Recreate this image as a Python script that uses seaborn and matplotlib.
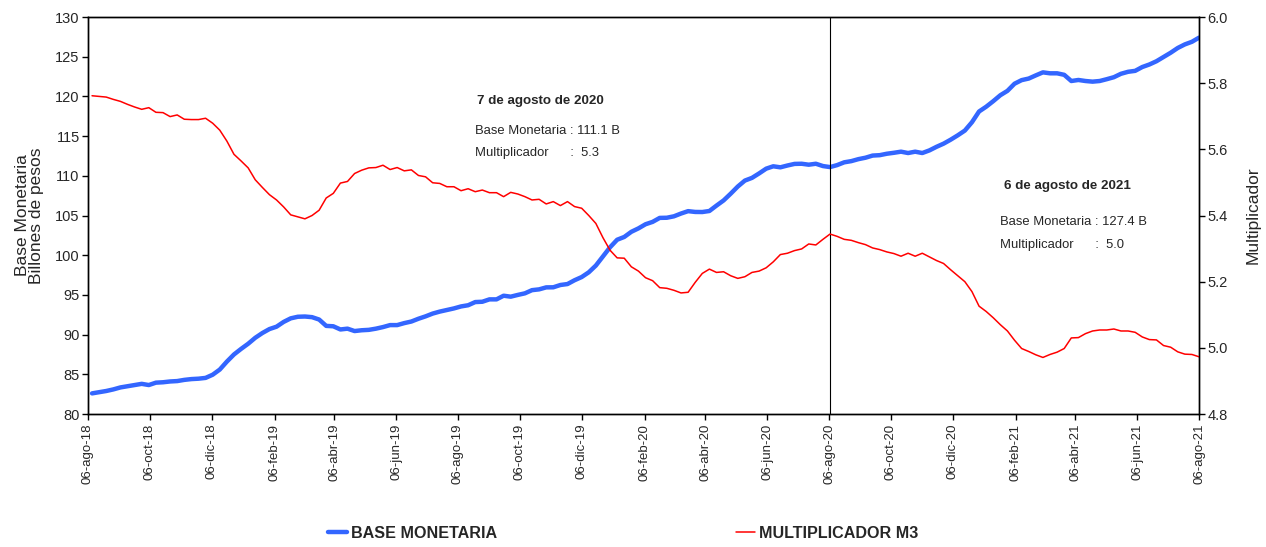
import pandas as pd
import numpy as np
import matplotlib
matplotlib.use("Agg")
import matplotlib.pyplot as plt
from matplotlib.lines import Line2D
import seaborn as sns

# weekly data (fridays), 10-ago-18 .. 06-ago-21
fechas = pd.date_range(end="2021-08-06", periods=157, freq="7D")

base_monetaria = [
    82.6, 82.75, 82.9, 83.1, 83.35, 83.5, 83.65, 83.8, 83.65, 83.95,
    84.0, 84.1, 84.15, 84.3, 84.4, 84.45, 84.55, 84.95, 85.6, 86.6,
    87.5, 88.2, 88.85, 89.6, 90.2, 90.7, 91.0, 91.6, 92.05, 92.25,
    92.28, 92.2, 91.9, 91.1, 91.05, 90.65, 90.75, 90.45, 90.55, 90.6,
    90.75, 90.95, 91.2, 91.2, 91.45, 91.65, 92.0, 92.3, 92.65, 92.9,
    93.1, 93.3, 93.55, 93.7, 94.1, 94.14, 94.44, 94.44, 94.9, 94.78,
    95.0, 95.2, 95.6, 95.7, 95.95, 95.96, 96.25, 96.37, 96.85, 97.25,
    97.85, 98.7, 99.85, 101.0, 101.95, 102.3, 102.95, 103.38, 103.9, 104.2,
    104.7, 104.72, 104.9, 105.25, 105.55, 105.45, 105.44, 105.57, 106.25, 106.9,
    107.75, 108.65, 109.4, 109.74, 110.3, 110.9, 111.2, 111.07, 111.3, 111.5,
    111.52, 111.4, 111.52, 111.23, 111.1, 111.35, 111.7, 111.85, 112.1, 112.28,
    112.55, 112.6, 112.78, 112.9, 113.04, 112.87, 113.04, 112.87, 113.2, 113.65,
    114.05, 114.55, 115.1, 115.7, 116.75, 118.1, 118.7, 119.4, 120.15, 120.7,
    121.6, 122.05, 122.25, 122.65, 123.03, 122.91, 122.91, 122.72, 121.94, 122.07,
    121.94, 121.86, 121.94, 122.17, 122.42, 122.85, 123.1, 123.22, 123.7, 124.02,
    124.43, 124.97, 125.5, 126.1, 126.55, 126.88, 127.4,
]

multiplicador = [
    5.762, 5.760, 5.758, 5.751, 5.745, 5.736, 5.728, 5.721, 5.726, 5.712,
    5.711, 5.699, 5.704, 5.691, 5.690, 5.690, 5.694, 5.679, 5.658, 5.625,
    5.585, 5.565, 5.544, 5.508, 5.485, 5.463, 5.447, 5.426, 5.402, 5.396,
    5.390, 5.400, 5.416, 5.453, 5.467, 5.498, 5.503, 5.527, 5.537, 5.544,
    5.545, 5.552, 5.539, 5.545, 5.535, 5.538, 5.521, 5.517, 5.499, 5.497,
    5.487, 5.487, 5.475, 5.481, 5.472, 5.477, 5.469, 5.469, 5.457, 5.470,
    5.465, 5.457, 5.447, 5.449, 5.435, 5.442, 5.430, 5.442, 5.427, 5.422,
    5.400, 5.376, 5.333, 5.295, 5.272, 5.271, 5.245, 5.232, 5.212, 5.203,
    5.182, 5.180, 5.174, 5.166, 5.168, 5.198, 5.225, 5.238, 5.228, 5.230,
    5.218, 5.210, 5.215, 5.228, 5.232, 5.242, 5.260, 5.282, 5.286, 5.294,
    5.299, 5.314, 5.311, 5.328, 5.344, 5.337, 5.328, 5.325, 5.318, 5.312,
    5.302, 5.297, 5.290, 5.285, 5.277, 5.286, 5.277, 5.286, 5.275, 5.264,
    5.255, 5.236, 5.218, 5.200, 5.170, 5.126, 5.110, 5.091, 5.070, 5.051,
    5.023, 4.998, 4.989, 4.979, 4.971, 4.980, 4.987, 4.998, 5.030, 5.031,
    5.043, 5.051, 5.054, 5.054, 5.057, 5.051, 5.051, 5.047, 5.033, 5.025,
    5.024, 5.007, 5.002, 4.988, 4.981, 4.980, 4.973,
]

# x ticks every two months, day 06
tick_fechas = pd.date_range("2018-08-01", "2021-08-01", freq="2MS") + pd.Timedelta(days=5)
meses = ["ene", "feb", "mar", "abr", "may", "jun", "jul", "ago", "sep", "oct", "nov", "dic"]
tick_labels = [f"06-{meses[d.month - 1]}-{d.strftime('%y')}" for d in tick_fechas]

fecha_marca = pd.Timestamp("2020-08-07")
notas = [
    ("7 de agosto de 2020", "Base Monetaria : 111.1 B", "Multiplicador      :  5.3"),
    ("6 de agosto de 2021", "Base Monetaria : 127.4 B", "Multiplicador      :  5.0"),
]

df = pd.DataFrame({"fecha": fechas, "base": base_monetaria, "mult": multiplicador})

sns.set_theme(style="white")
plt.rcParams["font.family"] = ["Liberation Sans", "DejaVu Sans"]

fig = plt.figure(figsize=(12.66, 5.47), dpi=100)
ax = fig.add_axes([0.0695, 0.2431, 0.8776, 0.7258])
ax2 = ax.twinx()

azul = "#3366FF"
rojo = "#FF0000"
sns.lineplot(data=df, x="fecha", y="base", ax=ax, color=azul, linewidth=3.2)
sns.lineplot(data=df, x="fecha", y="mult", ax=ax2, color=rojo, linewidth=1.1)

inicio = pd.Timestamp("2018-08-06")
ax.set_xlim(inicio, pd.Timestamp("2021-08-06"))
ax.set_ylim(80, 130)
ax.set_yticks(np.arange(80, 131, 5))
ax2.set_ylim(4.8, 6.0)
ax2.set_yticks(np.arange(4.8, 6.01, 0.2))
ax2.set_yticklabels([f"{v:.1f}" for v in np.arange(4.8, 6.01, 0.2)])

ax.set_xticks(tick_fechas)
ax.set_xticklabels(tick_labels, rotation=90, fontsize=9.5)

for a in (ax, ax2):
    for s in a.spines.values():
        s.set_color("black")
        s.set_linewidth(1.0)
    a.tick_params(axis="both", direction="out", length=4, width=1, color="black", pad=2)
    for lab in a.get_yticklabels():
        lab.set_fontsize(10.5)
ax.tick_params(axis="x", bottom=True, length=4, pad=3)
ax.tick_params(axis="y", left=True)
ax2.tick_params(axis="y", right=True)

ax.set_xlabel("")
ax.set_ylabel("Base Monetaria\nBillones de pesos", fontsize=12.5, linespacing=0.95, labelpad=8)
ax2.set_ylabel("Multiplicador", fontsize=12.5, labelpad=13)

ax.axvline(fecha_marca, color="black", linewidth=0.8)

# annotations: (title x, title y, lines x, line1 y, line2 y) in days from start / left-axis units
pos_notas = [(446, 119.4, 382, 115.6, 112.85), (966, 108.7, 900, 104.2, 101.3)]
for (titulo, l1, l2), (tx, ty, lx, y1, y2) in zip(notas, pos_notas):
    ax.text(inicio + pd.Timedelta(days=tx), ty, titulo, fontsize=9.6, fontweight="bold",
            ha="center", va="center")
    ax.text(inicio + pd.Timedelta(days=lx), y1, l1, fontsize=9.4, ha="left", va="center")
    ax.text(inicio + pd.Timedelta(days=lx), y2, l2, fontsize=9.4, ha="left", va="center")

handles = [Line2D([], [], color=azul, linewidth=3.2), Line2D([], [], color=rojo, linewidth=1.1)]
fig.legend(handles, ["BASE MONETARIA", "MULTIPLICADOR M3"], loc="center",
           bbox_to_anchor=(0.492, 0.025), ncol=2, frameon=False,
           columnspacing=14.8, handlelength=1.2, handletextpad=0.25,
           prop={"weight": "bold", "size": 11.6})

fig.savefig("out.png", dpi=100)
